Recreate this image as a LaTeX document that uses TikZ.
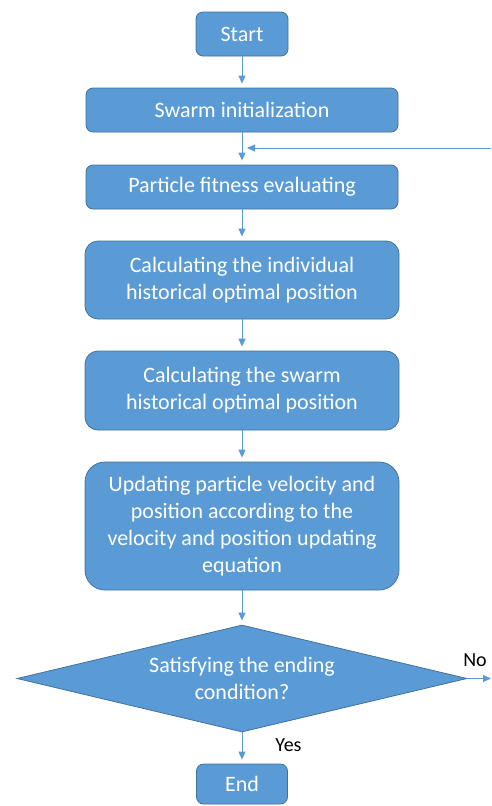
\documentclass[tikz,border=0pt]{standalone}
\usepackage{fontspec}
\setmainfont{Carlito}
\usetikzlibrary{shapes.geometric,arrows.meta}
\definecolor{boxblue}{HTML}{5B9BD5}
\definecolor{boxline}{HTML}{41719C}
\definecolor{arrblue}{HTML}{5B9BD5}
\begin{document}
\begin{tikzpicture}[x=1pt,y=-1pt,
  procbox/.style={draw=boxline, line width=0.8pt, fill=boxblue, text=white,
    font=\fontsize{22}{26.8}\selectfont, align=center, inner sep=0pt},
  decision/.style={diamond, aspect=4.2, draw=boxline, line width=0.8pt, fill=boxblue, text=white,
    font=\fontsize{22}{26.8}\selectfont, align=center, inner sep=0pt},
  flow/.style={draw=arrblue, line width=1pt, shorten >=4pt, -{Triangle[length=8pt,width=7pt]}},
  lbl/.style={font=\fontsize{20}{24}\selectfont, text=black, inner sep=0pt}]
\useasboundingbox (0,0) rectangle (491,806);
\node[procbox, minimum width=92pt, minimum height=44pt, rounded corners=7pt] (start) at (242,34) {Start};
\node[procbox, minimum width=312pt, minimum height=44pt, rounded corners=7pt] (init) at (242,110) {Swarm initialization};
\node[procbox, minimum width=312pt, minimum height=44pt, rounded corners=7pt] (fit) at (242,187) {Particle fitness evaluating};
\node[procbox, minimum width=314pt, minimum height=78pt, rounded corners=13pt] (ind) at (242,280) {Calculating the individual\\historical optimal position};
\node[procbox, minimum width=314pt, minimum height=79pt, rounded corners=13pt] (swh) at (242,390.5) {Calculating the swarm\\historical optimal position};
\node[procbox, minimum width=314pt, minimum height=128pt, rounded corners=20pt] (upd) at (242,526) {Updating particle velocity and\\position according to the\\velocity and position updating\\equation};
\node[decision, minimum width=450pt, minimum height=107pt] (dec) at (242,678.5) {Satisfying the ending\\condition?};
\node[procbox, minimum width=91pt, minimum height=40pt, rounded corners=7pt] (end) at (242,784) {End};
\coordinate (fbin) at (491,148);
\coordinate (fbjoin) at (247,148);
\coordinate (noout) at (495,678.5);
\draw[flow] (start.south) -- (init.north);
\draw[flow] (init.south) -- (fit.north);
\draw[flow, shorten >=0pt] (fbin) -- (fbjoin);
\draw[flow] (fit.south) -- (ind.north);
\draw[flow] (ind.south) -- (swh.north);
\draw[flow] (swh.south) -- (upd.north);
\draw[flow] (upd.south) -- (dec.north);
\draw[flow] (dec.south) -- (end.north);
\draw[flow] (dec.east) -- (noout);
\node[lbl] (nolbl) at (475,660.5) {No};
\node[lbl] (yeslbl) at (288.5,745.5) {Yes};
\end{tikzpicture}
\end{document}
